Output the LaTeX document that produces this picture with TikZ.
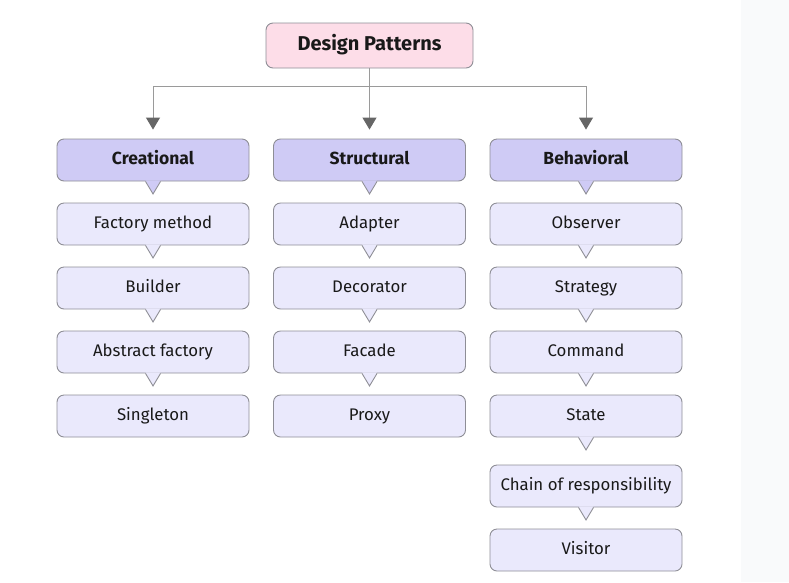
\documentclass[tikz,border=0pt]{standalone}
\usepackage{fontspec}
\setmainfont{Fira Sans}
\usetikzlibrary{arrows.meta}
\definecolor{bordc}{HTML}{8E8E96}
\definecolor{linec}{HTML}{9A9A9A}
\definecolor{tipc}{HTML}{666666}
\definecolor{dpfill}{HTML}{FDDDE8}
\definecolor{hdfill}{HTML}{CFCBF5}
\definecolor{itfill}{HTML}{EAE9FC}
\definecolor{panel}{HTML}{F9FAFB}
\tikzset{
  base/.style={draw=bordc, line width=0.9pt, rounded corners=7pt, minimum width=192pt, minimum height=42pt, inner sep=0pt, font=\fontsize{16.8}{20}\selectfont, text=black!90, text height=0.9em, text depth=0em},
  dpbox/.style={base, fill=dpfill, minimum width=207pt, minimum height=45pt, font=\fontsize{20}{24}\selectfont\bfseries},
  hdbox/.style={base, fill=hdfill, font=\fontsize{17.5}{21}\selectfont\bfseries},
  itbox/.style={base, fill=itfill},
  conn/.style={draw=linec, line width=1pt},
  arr/.style={conn, arrows={-{Triangle[length=12pt,width=14pt,color=tipc]}}}
}
\newcommand{\ptr}[2]{%
  \fill[#2] ([xshift=-7.5pt,yshift=1.2pt]#1.south) -- ([xshift=7.5pt,yshift=1.2pt]#1.south) -- ([yshift=-12.5pt]#1.south) -- cycle;
  \draw[bordc, line width=0.9pt, line join=miter] ([xshift=-7.5pt]#1.south) -- ([yshift=-12.5pt]#1.south) -- ([xshift=7.5pt]#1.south);
}
\begin{document}
\begin{tikzpicture}[x=1pt,y=-1pt]
\useasboundingbox (0,0) rectangle (789,582);
\fill[panel] (741,0) rectangle (789,582);
\node[dpbox] (dp) at (369.5,45.5) {Design Patterns};
\node[hdbox] (cr) at (153,160) {Creational};
\node[hdbox] (st) at (369.5,160) {Structural};
\node[hdbox] (be) at (586,160) {Behavioral};
% creational
\node[itbox] (c1) at (153,224) {Factory method};
\node[itbox] (c2) at (153,288) {Builder};
\node[itbox] (c3) at (153,352) {Abstract factory};
\node[itbox] (c4) at (153,416) {Singleton};
% structural
\node[itbox] (s1) at (369.5,224) {Adapter};
\node[itbox] (s2) at (369.5,288) {Decorator};
\node[itbox] (s3) at (369.5,352) {Facade};
\node[itbox] (s4) at (369.5,416) {Proxy};
% behavioral
\node[itbox] (b1) at (586,224) {Observer};
\node[itbox] (b2) at (586,288) {Strategy};
\node[itbox] (b3) at (586,352) {Command};
\node[itbox] (b4) at (586,416) {State};
\node[itbox] (b5) at (586,486) {Chain of responsibility};
\node[itbox] (b6) at (586,550) {Visitor};
% pointers
\ptr{cr}{hdfill}\ptr{st}{hdfill}\ptr{be}{hdfill}
\foreach \n in {c1,c2,c3,s1,s2,s3,b1,b2,b3,b4,b5}{\ptr{\n}{itfill}}
% connectors
\coordinate (jl) at (153,86);
\coordinate (jr) at (586,86);
\draw[conn] (jl) -- (jr);
\draw[arr, shorten >=9pt] (dp.south) -- (st.north);
\draw[arr, shorten >=9pt] (jl) -- (cr.north);
\draw[arr, shorten >=9pt] (jr) -- (be.north);
\end{tikzpicture}
\end{document}
